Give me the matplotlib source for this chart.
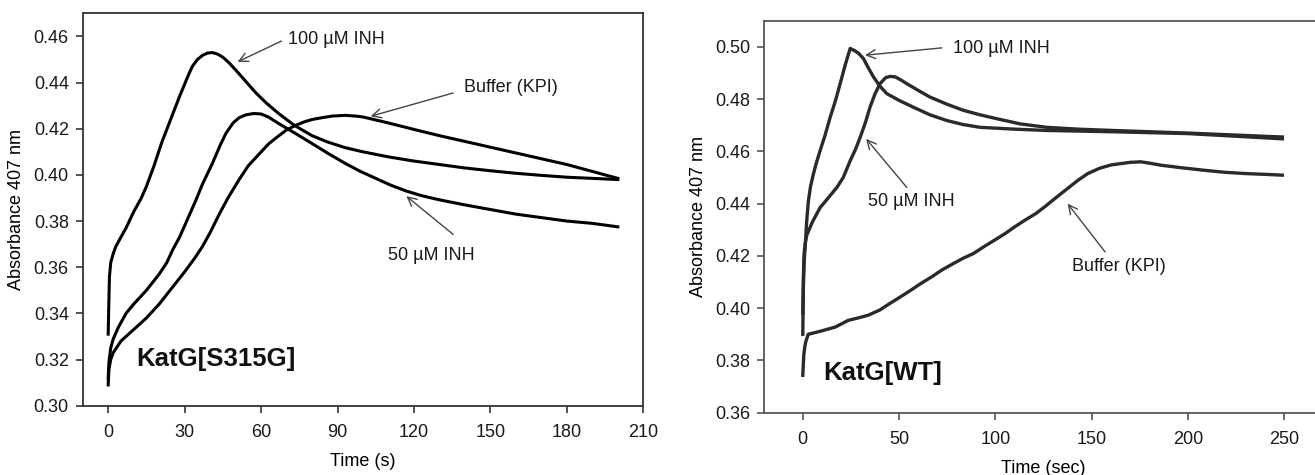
import matplotlib
matplotlib.use("Agg")
import matplotlib.pyplot as plt

plt.rcParams["font.family"] = ["Liberation Sans", "DejaVu Sans"]

# -------------------------
# Left panel: KatG[S315G]
# -------------------------
s_100_t = [0, 0.2, 0.5, 1, 2, 3, 4.5, 7, 10, 13, 15, 18, 21, 24.5, 28, 31, 33, 35, 37, 39,
           41, 43, 45, 47.5, 50, 54, 58, 62, 67, 73, 80, 86, 93, 100, 110, 120, 130, 140,
           150, 160, 170, 180, 190, 200]
s_100_v = [0.331, 0.342, 0.356, 0.362, 0.366, 0.369, 0.372, 0.377, 0.384, 0.390, 0.395,
           0.404, 0.414, 0.424, 0.434, 0.442, 0.447, 0.450, 0.4518, 0.4528, 0.453, 0.4523,
           0.451, 0.4485, 0.4455, 0.4405, 0.4355, 0.4312, 0.4265, 0.4215, 0.417, 0.4143,
           0.4118, 0.410, 0.4078, 0.406, 0.4045, 0.403, 0.4018, 0.4007, 0.3998, 0.399,
           0.3985, 0.398]

s_50_t = [0, 0.3, 1, 2, 4, 7, 10, 15, 20, 23, 25.3, 28, 30, 32, 34.4, 37, 40.9, 44, 46.2,
          49, 51.4, 54, 57, 60, 63, 67, 73.6, 80, 86, 93, 99, 105, 111, 117, 123, 130, 140,
          150, 160, 170, 180, 190, 200]
s_50_v = [0.312, 0.319, 0.325, 0.329, 0.334, 0.340, 0.344, 0.350, 0.357, 0.362, 0.3675,
          0.373, 0.378, 0.383, 0.389, 0.396, 0.405, 0.413, 0.418, 0.4225, 0.4248, 0.426,
          0.4266, 0.4264, 0.425, 0.4222, 0.4179, 0.4136, 0.4095, 0.405, 0.4015, 0.3985,
          0.3955, 0.393, 0.391, 0.3892, 0.387, 0.385, 0.383, 0.3815, 0.380, 0.379, 0.3775]

s_buf_t = [0, 0.3, 1, 2, 5, 10, 15, 20, 25, 30, 34, 37, 40, 43.6, 47, 51.4, 55, 59.2, 63,
           67, 70, 73.6, 77, 80, 84, 88, 93, 97, 100, 105, 110, 120, 130, 140, 150, 160,
           170, 180, 190, 200]
s_buf_v = [0.309, 0.316, 0.320, 0.323, 0.328, 0.333, 0.338, 0.344, 0.351, 0.358, 0.364,
           0.369, 0.375, 0.383, 0.390, 0.398, 0.404, 0.409, 0.4135, 0.417, 0.4195, 0.4215,
           0.423, 0.424, 0.4248, 0.4255, 0.4258, 0.4255, 0.4251, 0.4238, 0.4225, 0.4197,
           0.417, 0.4145, 0.412, 0.4095, 0.407, 0.4045, 0.4015, 0.3985]

# -------------------------
# Right panel: KatG[WT]
# -------------------------
w_100_t = [0, 0.3, 0.7, 1.2, 2, 2.9, 4, 5.5, 7, 9, 11.5, 14.2, 17, 19.4, 22, 24.6, 27, 29,
           31.5, 34, 36.7, 40, 43.6, 50, 57.4, 66, 74.8, 83, 92, 110, 126.6, 161, 200, 249]
w_100_v = [0.390, 0.408, 0.418, 0.423, 0.433, 0.441, 0.4465, 0.4513, 0.4555, 0.4603,
           0.466, 0.473, 0.4795, 0.4859, 0.493, 0.4994, 0.4985, 0.4975, 0.4955, 0.492,
           0.4885, 0.485, 0.4821, 0.4795, 0.4769, 0.474, 0.4718, 0.4703, 0.4692, 0.4685,
           0.468, 0.4675, 0.4668, 0.4648]

w_50_t = [0, 0.3, 0.7, 1.3, 2.1, 5, 9, 13, 17.7, 21, 24.6, 27.5, 29.8, 32.5, 34.9, 37.5,
          40.1, 43, 45.3, 48, 51, 54, 60, 66, 75, 83.4, 92, 100.7, 113, 126.7, 143, 161,
          200, 249]
w_50_v = [0.398, 0.412, 0.421, 0.425, 0.428, 0.433, 0.4385, 0.442, 0.4462, 0.450, 0.4564,
          0.461, 0.4654, 0.471, 0.4769, 0.482, 0.4859, 0.4882, 0.4887, 0.4885, 0.4873,
          0.4859, 0.4833, 0.4808, 0.478, 0.4757, 0.474, 0.4725, 0.4705, 0.4692, 0.4685,
          0.468, 0.467, 0.4655]

w_buf_t = [0, 0.5, 1, 1.5, 2.8, 8.3, 17, 23.5, 29, 34, 40, 45, 50, 56, 61, 67, 72, 78, 83,
           88.6, 94, 99.5, 105, 110, 115, 121, 126, 132, 137, 143, 148, 154, 160, 165, 170,
           175.5, 180, 186, 197, 208, 219, 230, 240, 249]
w_buf_v = [0.3743, 0.382, 0.385, 0.387, 0.390, 0.391, 0.3928, 0.3953, 0.3963, 0.3973,
           0.3993, 0.4017, 0.404, 0.4068, 0.4093, 0.412, 0.4145, 0.417, 0.419, 0.4209,
           0.4235, 0.426, 0.4285, 0.4311, 0.4335, 0.4362, 0.439, 0.4426, 0.4455, 0.449,
           0.4515, 0.4535, 0.4548, 0.4553, 0.4558, 0.456, 0.4555, 0.4547, 0.4537, 0.4528,
           0.452, 0.4515, 0.4512, 0.4509]

left_xticks = [0, 30, 60, 90, 120, 150, 180, 210]
left_yticks = [0.30, 0.32, 0.34, 0.36, 0.38, 0.40, 0.42, 0.44, 0.46]
right_xticks = [0, 50, 100, 150, 200, 250]
right_yticks = [0.36, 0.38, 0.40, 0.42, 0.44, 0.46, 0.48, 0.50]

FS = 13
ARROW = dict(arrowstyle="->", color="#444444", lw=1.0, mutation_scale=16,
             shrinkA=0, shrinkB=0)


def style_axes(ax, spine_color):
    for side in ["left", "bottom", "top", "right"]:
        ax.spines[side].set_color(spine_color)
        ax.spines[side].set_linewidth(1.3)
    ax.tick_params(direction="out", length=5, width=1.2, color=spine_color,
                   labelsize=FS, labelcolor="#1a1a1a", pad=5)
    ax.tick_params(axis="x", pad=8)


def note(ax, text, txt_xy, tail, head):
    ax.text(txt_xy[0], txt_xy[1], text, fontsize=FS, ha="left", va="center", color="#1a1a1a")
    ax.annotate("", xy=head, xytext=tail, arrowprops=ARROW)


fig = plt.figure(figsize=(13.15, 4.75), dpi=100)

# left panel
ax1 = fig.add_axes([0.0629, 0.1459, 0.4263, 0.826])
for t, v in [(s_100_t, s_100_v), (s_50_t, s_50_v), (s_buf_t, s_buf_v)]:
    ax1.plot(t, v, color="black", lw=2.2, solid_joinstyle="round")
ax1.set_xlim(-10, 210)
ax1.set_ylim(0.30, 0.47)
ax1.set_xticks(left_xticks)
ax1.set_yticks(left_yticks)
ax1.set_yticklabels([f"{v:.2f}" for v in left_yticks])
ax1.set_xlabel("Time (s)", fontsize=FS, labelpad=9)
ax1.set_ylabel("Absorbance 407 nm", fontsize=FS, labelpad=6)
style_axes(ax1, "#333333")

note(ax1, "100 µM INH", (70.5, 0.4587), (68.0, 0.4580), (50.8, 0.4490))
note(ax1, "Buffer (KPI)", (139.5, 0.4377), (135.4, 0.4355), (103.0, 0.4254))
note(ax1, "50 µM INH", (109.7, 0.3649), (135.4, 0.3742), (117.0, 0.3908))
ax1.text(11.1, 0.3202, "KatG[S315G]", fontsize=18.5, fontweight="bold",
         ha="left", va="center", color="#111111")

# right panel
ax2 = fig.add_axes([0.5812, 0.1312, 0.4247, 0.8252])
for t, v in [(w_100_t, w_100_v), (w_50_t, w_50_v), (w_buf_t, w_buf_v)]:
    ax2.plot(t, v, color="#2a2a2a", lw=2.4, solid_joinstyle="round")
ax2.set_xlim(-20, 270)
ax2.set_ylim(0.36, 0.51)
ax2.set_xticks(right_xticks)
ax2.set_yticks(right_yticks)
ax2.set_yticklabels([f"{v:.2f}" for v in right_yticks])
ax2.set_xlabel("Time (sec)", fontsize=FS, labelpad=9)
ax2.set_ylabel("Absorbance 407 nm", fontsize=FS, labelpad=6)
style_axes(ax2, "#555555")

note(ax2, "100 µM INH", (78.0, 0.4994), (72.2, 0.4996), (32.3, 0.4968))
note(ax2, "50 µM INH", (34.1, 0.4410), (54.0, 0.4462), (32.9, 0.4648))
note(ax2, "Buffer (KPI)", (139.7, 0.4158), (157.0, 0.4215), (137.5, 0.4400))
ax2.text(10.4, 0.3750, "KatG[WT]", fontsize=18.5, fontweight="bold",
         ha="left", va="center", color="#111111")

fig.savefig("out.png", dpi=100)
